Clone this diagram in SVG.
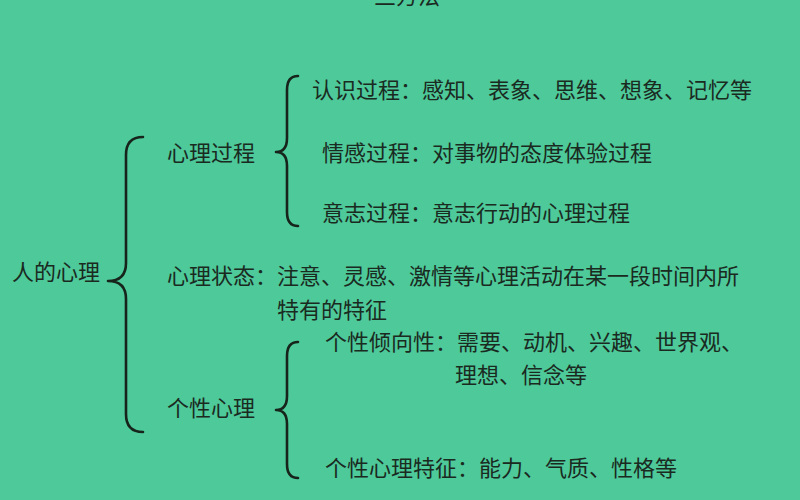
<svg xmlns="http://www.w3.org/2000/svg" width="800" height="500" viewBox="0 0 800 500">
<style>
.t{font-family:"Noto Sans CJK SC","Noto Sans CJK JP",sans-serif;font-size:22px;fill:#1a2a21;}
.b{fill:none;stroke:#16241c;stroke-width:2.6;stroke-linecap:round;stroke-linejoin:round;}
</style>
<rect width="800" height="500" fill="#4ec99a"/>
<text class="t" x="374" y="4">三方法</text>
<g id="connectors">
<path class="b" d="M143,137 Q126,137 126,155 L126,263 Q126,281 108,281 Q126,281 126,299 L126,414 Q126,432 143,432"/>
<path class="b" d="M298,76 Q287,76 287,90 L287,138 Q287,152 276,152 Q287,152 287,166 L287,212 Q287,226 298,226"/>
<path class="b" d="M298,342 Q287,342 287,356 L287,396 Q287,410 276,410 Q287,410 287,424 L287,464 Q287,478 298,478"/>
</g>
<g id="root"><text class="t" x="12" y="280">人的心理</text></g>
<g id="process"><text class="t" x="167" y="161">心理过程</text></g>
<g id="cognition"><text class="t" x="312" y="98">认识过程：感知、表象、思维、想象、记忆等</text></g>
<g id="emotion"><text class="t" x="322" y="161">情感过程：对事物的态度体验过程</text></g>
<g id="will"><text class="t" x="322" y="221">意志过程：意志行动的心理过程</text></g>
<g id="state">
<text class="t" x="167" y="284">心理状态：注意、灵感、激情等心理活动在某一段时间内所</text>
<text class="t" x="277" y="318">特有的特征</text>
</g>
<g id="personality"><text class="t" x="167" y="416">个性心理</text></g>
<g id="tendency">
<text class="t" x="325" y="350">个性倾向性：需要、动机、兴趣、世界观、</text>
<text class="t" x="455" y="383">理想、信念等</text>
</g>
<g id="traits"><text class="t" x="325" y="476">个性心理特征：能力、气质、性格等</text></g>
</svg>
